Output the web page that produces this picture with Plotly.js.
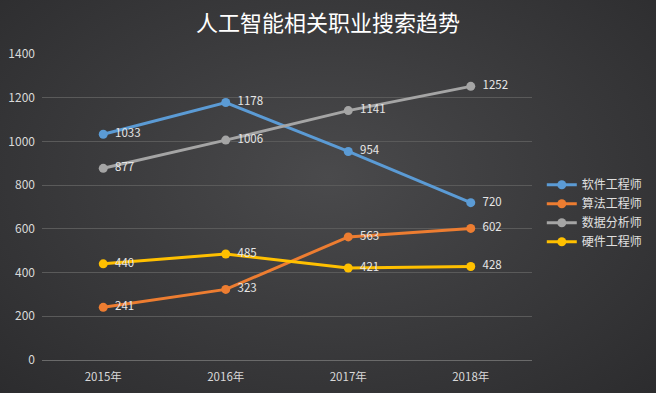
<!DOCTYPE html>
<html>
<head>
<meta charset="utf-8">
<script src="https://cdn.plot.ly/plotly-3.0.1.min.js"></script>
<style>
html,body{margin:0;padding:0;}
body{width:656px;height:393px;overflow:hidden;
background:radial-gradient(ellipse at 50% 45%, #4a4a4c 0%, #3c3c3e 45%, #2c2c2e 100%);}
#chart{width:656px;height:393px;}
</style>
</head>
<body>
<div id="chart"></div>
<script>
const years = ['2015年','2016年','2017年','2018年'];
const seriesNames = ['软件工程师','算法工程师','数据分析师','硬件工程师'];
const software = [1033, 1178, 954, 720];
const algorithm = [241, 323, 563, 602];
const dataAnalyst = [877, 1006, 1141, 1252];
const hardware = [440, 485, 421, 428];
const colors = ['#5b9bd5','#ed7d31','#a5a5a5','#ffc000'];
const allValues = [software, algorithm, dataAnalyst, hardware];

const font = '"Noto Sans CJK SC", "Noto Sans", sans-serif';
const traces = allValues.map((vals, i) => ({
  x: years, y: vals, name: seriesNames[i], type: 'scatter',
  mode: 'lines+markers+text',
  line: {color: colors[i], width: 3},
  marker: {color: colors[i], size: 9},
  text: vals.map(v => '  ' + v),
  textposition: 'middle right',
  textfont: {color: '#e6e6e6', size: 11.5, family: font},
  cliponaxis: false
}));

Plotly.newPlot('chart', traces, {
  width: 656, height: 393,
  paper_bgcolor: 'rgba(0,0,0,0)', plot_bgcolor: 'rgba(0,0,0,0)',
  margin: {l: 42, r: 124, t: 54, b: 33, autoexpand: false},
  title: {text: '人工智能相关职业搜索趋势', x: 0.5, xanchor: 'center', y: 0.94, yanchor: 'middle',
    font: {family: font, size: 22, color: '#ffffff'}},
  font: {family: font, color: '#d9d9d9', size: 11},
  xaxis: {type: 'category', range: [-0.5, 3.5], showgrid: false, zeroline: false,
    showline: true, linecolor: '#6a6a6a', linewidth: 1, ticks: '', ticklabelstandoff: 6,
    tickfont: {size: 11.5, color: '#d9d9d9', family: font}},
  yaxis: {range: [0, 1400], dtick: 200, showgrid: true, gridcolor: '#5a5a5a', gridwidth: 1,
    zeroline: false, showline: false, ticks: '', ticklabelstandoff: 6,
    tickfont: {size: 12, color: '#d9d9d9', family: font}},
  showlegend: true,
  legend: {x: 1.02, xanchor: 'left', y: 0.62, yanchor: 'top', bgcolor: 'rgba(0,0,0,0)',
    font: {size: 12, color: '#e0e0e0', family: font}, tracegroupgap: 0, itemwidth: 30}
}, {staticPlot: true});
</script>
</body>
</html>
